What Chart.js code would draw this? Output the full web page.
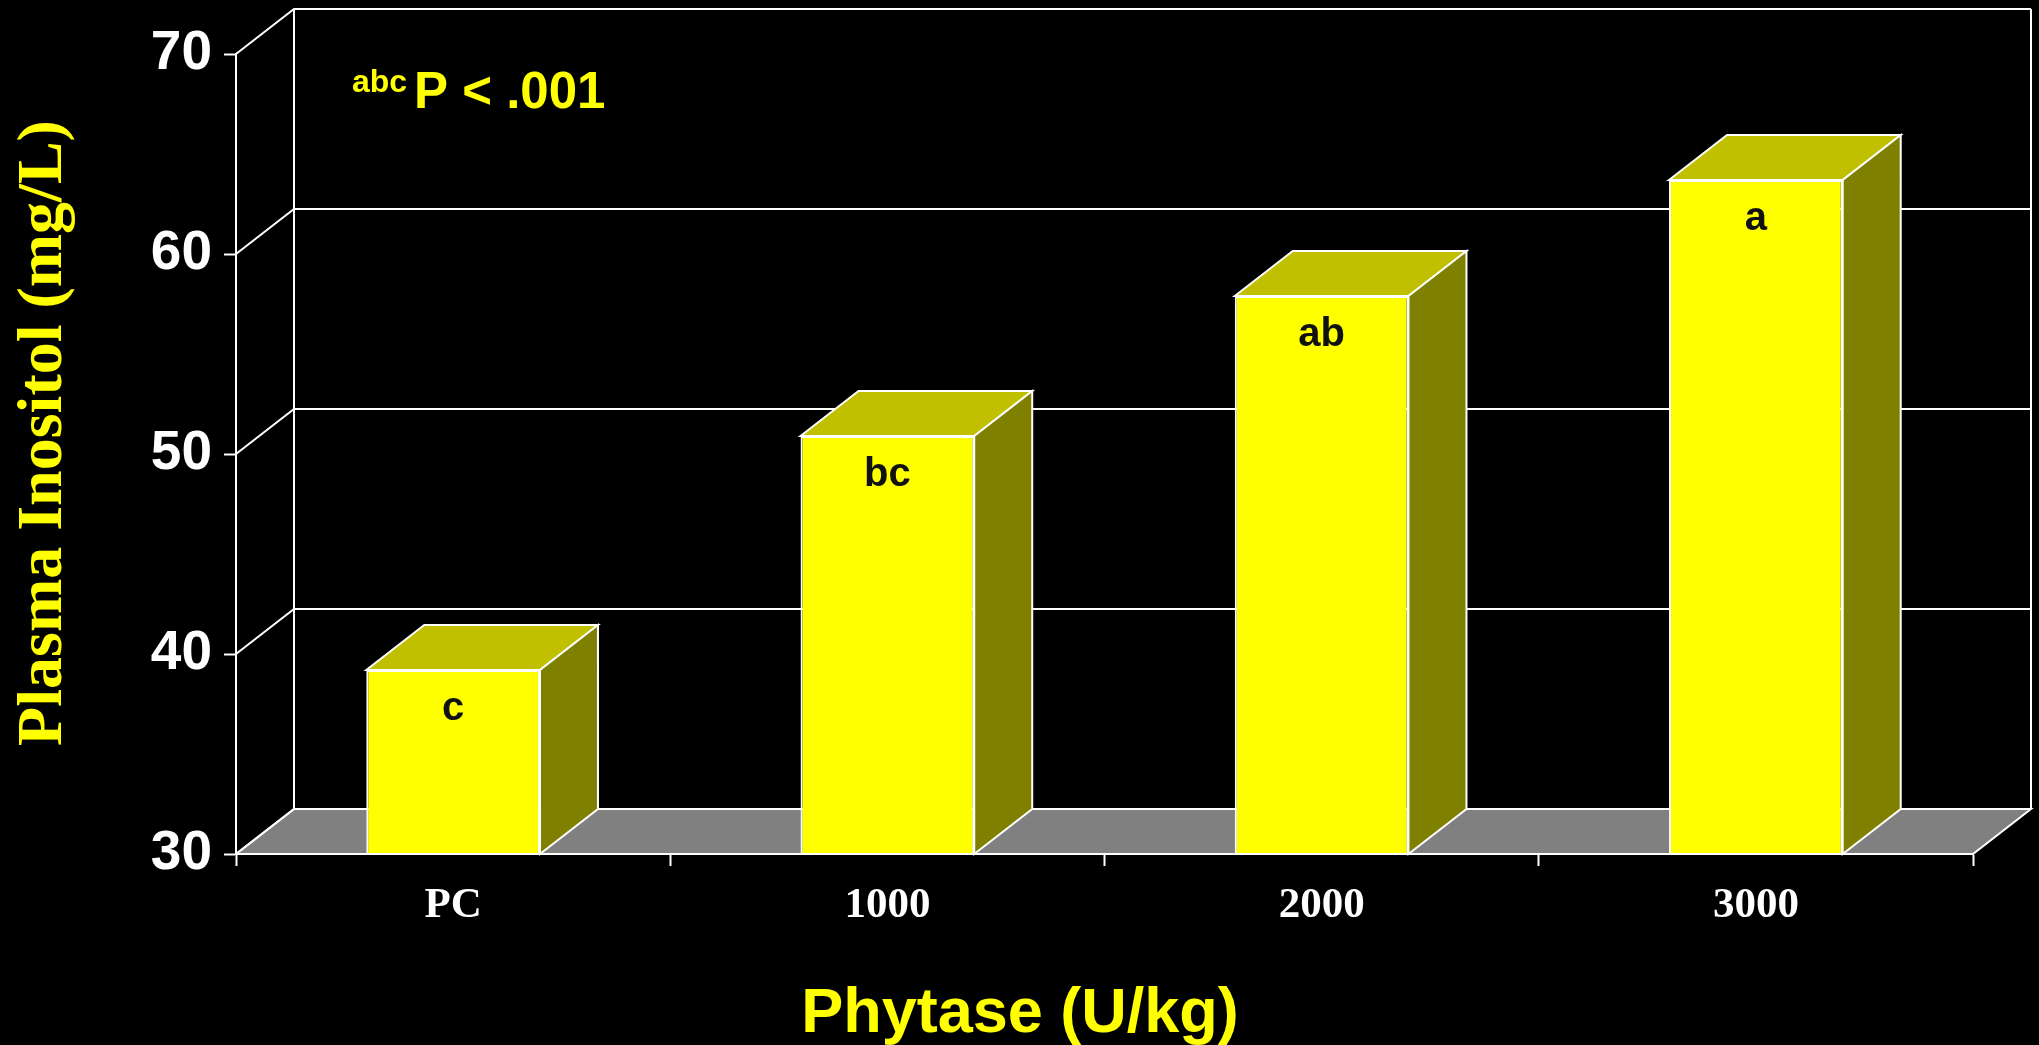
<!DOCTYPE html>
<html>
<head>
<meta charset="utf-8">
<title>Plasma Inositol</title>
<style>
  html, body { margin: 0; padding: 0; background: #000; overflow: hidden; }
  canvas { display: block; }
</style>
<script src="https://cdn.jsdelivr.net/npm/chart.js@4.4.0/dist/chart.umd.min.js"></script>
</head>
<body>
<canvas id="chart" width="2039" height="1045"></canvas>
<script>
// Data
const categories = ['PC', '1000', '2000', '3000'];
const inositol = [39.2, 50.9, 57.9, 63.7];
const letters = ['c', 'bc', 'ab', 'a'];
const yTicks = [30, 40, 50, 60, 70];
const yTitle = 'Plasma Inositol (mg/L)';
const xTitle = 'Phytase (U/kg)';
const noteSup = 'abc';
const noteText = 'P < .001';

// 3-D look: offset from the front plane to the back wall
const DEPTH_X = 58;
const DEPTH_Y = -45;
const WHITE = '#ffffff';
const YELLOW = '#ffff00';

const depthPlugin = {
  id: 'depth',
  beforeDatasetsDraw(chart) {
    const { ctx, chartArea: a, scales: { y } } = chart;
    const floorY = y.getPixelForValue(y.min);
    const topY = y.getPixelForValue(y.max);
    ctx.save();
    ctx.lineWidth = 2;
    ctx.strokeStyle = WHITE;
    ctx.lineJoin = 'miter';

    // floor
    ctx.beginPath();
    ctx.moveTo(a.left, floorY);
    ctx.lineTo(a.right, floorY);
    ctx.lineTo(a.right + DEPTH_X, floorY + DEPTH_Y);
    ctx.lineTo(a.left + DEPTH_X, floorY + DEPTH_Y);
    ctx.closePath();
    ctx.fillStyle = '#808080';
    ctx.fill();
    ctx.stroke();

    // back wall edges
    ctx.beginPath();
    ctx.moveTo(a.left + DEPTH_X, floorY + DEPTH_Y);
    ctx.lineTo(a.left + DEPTH_X, topY + DEPTH_Y);
    ctx.moveTo(a.right + DEPTH_X, floorY + DEPTH_Y);
    ctx.lineTo(a.right + DEPTH_X, topY + DEPTH_Y);
    ctx.stroke();

    // grid lines on the side and back walls
    yTicks.forEach(v => {
      const py = y.getPixelForValue(v);
      ctx.beginPath();
      ctx.moveTo(a.left, py);
      ctx.lineTo(a.left + DEPTH_X, py + DEPTH_Y);
      if (v !== y.min) ctx.lineTo(a.right + DEPTH_X, py + DEPTH_Y);
      ctx.stroke();
    });

    // top and side faces of each bar
    chart.getDatasetMeta(0).data.forEach(bar => {
      const { x: cx, y: top, width } = bar.getProps(['x', 'y', 'width'], true);
      const base = floorY;
      const l = cx - width / 2, r = cx + width / 2;
      ctx.beginPath();
      ctx.moveTo(l, top);
      ctx.lineTo(l + DEPTH_X, top + DEPTH_Y);
      ctx.lineTo(r + DEPTH_X, top + DEPTH_Y);
      ctx.lineTo(r, top);
      ctx.closePath();
      ctx.fillStyle = '#c0c000';
      ctx.fill();
      ctx.stroke();

      ctx.beginPath();
      ctx.moveTo(r, top);
      ctx.lineTo(r + DEPTH_X, top + DEPTH_Y);
      ctx.lineTo(r + DEPTH_X, base + DEPTH_Y);
      ctx.lineTo(r, base);
      ctx.closePath();
      ctx.fillStyle = '#808000';
      ctx.fill();
      ctx.stroke();
    });
    ctx.restore();
  },
  afterDatasetsDraw(chart) {
    const { ctx, chartArea: a, scales: { y } } = chart;
    const floorY = y.getPixelForValue(y.min);
    ctx.save();

    // front edge of the floor, across the bar fronts
    ctx.strokeStyle = WHITE;
    ctx.lineWidth = 2;
    ctx.beginPath();
    ctx.moveTo(a.left, floorY);
    ctx.lineTo(a.right, floorY);
    ctx.stroke();

    // significance letters on the bar fronts
    ctx.fillStyle = '#111111';
    ctx.textAlign = 'center';
    ctx.textBaseline = 'alphabetic';
    ctx.font = 'bold 40px "Liberation Sans", Arial, sans-serif';
    chart.getDatasetMeta(0).data.forEach((bar, i) => {
      ctx.fillText(letters[i], bar.x, bar.y + 50);
    });

    // P-value note
    ctx.fillStyle = YELLOW;
    ctx.textAlign = 'left';
    ctx.font = 'bold 32px "Liberation Sans", Arial, sans-serif';
    ctx.fillText(noteSup, a.left + 116, 92);
    ctx.font = 'bold 51px "Liberation Sans", Arial, sans-serif';
    ctx.fillText(noteText, a.left + 178, 108);

    // axis titles
    ctx.textAlign = 'center';
    ctx.font = 'bold 63px "Liberation Sans", Arial, sans-serif';
    ctx.fillText(xTitle, 1020, 1032);

    ctx.save();
    ctx.translate(61, 433);
    ctx.rotate(-Math.PI / 2);
    ctx.font = 'bold 64px "Liberation Serif", "Times New Roman", serif';
    ctx.fillText(yTitle, 0, 0);
    ctx.restore();

    ctx.restore();
  }
};

new Chart(document.getElementById('chart'), {
  type: 'bar',
  data: {
    labels: categories,
    datasets: [{
      data: inositol,
      backgroundColor: YELLOW,
      borderColor: WHITE,
      borderWidth: 2,
      borderSkipped: false,
      barPercentage: 0.4,
      categoryPercentage: 1.0
    }]
  },
  options: {
    responsive: false,
    animation: false,
    devicePixelRatio: 1,
    layout: { padding: { top: 54, right: 66, left: 0, bottom: 0 } },
    plugins: { legend: { display: false }, tooltip: { enabled: false } },
    scales: {
      x: {
        grid: {
          offset: true, drawOnChartArea: false, drawTicks: true,
          tickLength: 12, tickColor: WHITE, tickWidth: 2, color: WHITE
        },
        border: { display: true, color: WHITE, width: 2 },
        ticks: {
          color: WHITE, padding: 14,
          font: { family: '"Liberation Serif", "Times New Roman", serif', weight: 'bold', size: 43 }
        },
        afterFit(scale) { scale.height = 191; }
      },
      y: {
        min: 30, max: 70,
        ticks: {
          stepSize: 10, color: WHITE, padding: 12,
          font: { family: '"Liberation Sans", Arial, sans-serif', weight: 'bold', size: 55 }
        },
        grid: {
          drawOnChartArea: false, tickLength: 12, tickColor: WHITE, tickWidth: 2, color: WHITE
        },
        border: { display: true, color: WHITE, width: 2 },
        afterFit(scale) { scale.width = 236; }
      }
    }
  },
  plugins: [depthPlugin]
});
</script>
</body>
</html>
